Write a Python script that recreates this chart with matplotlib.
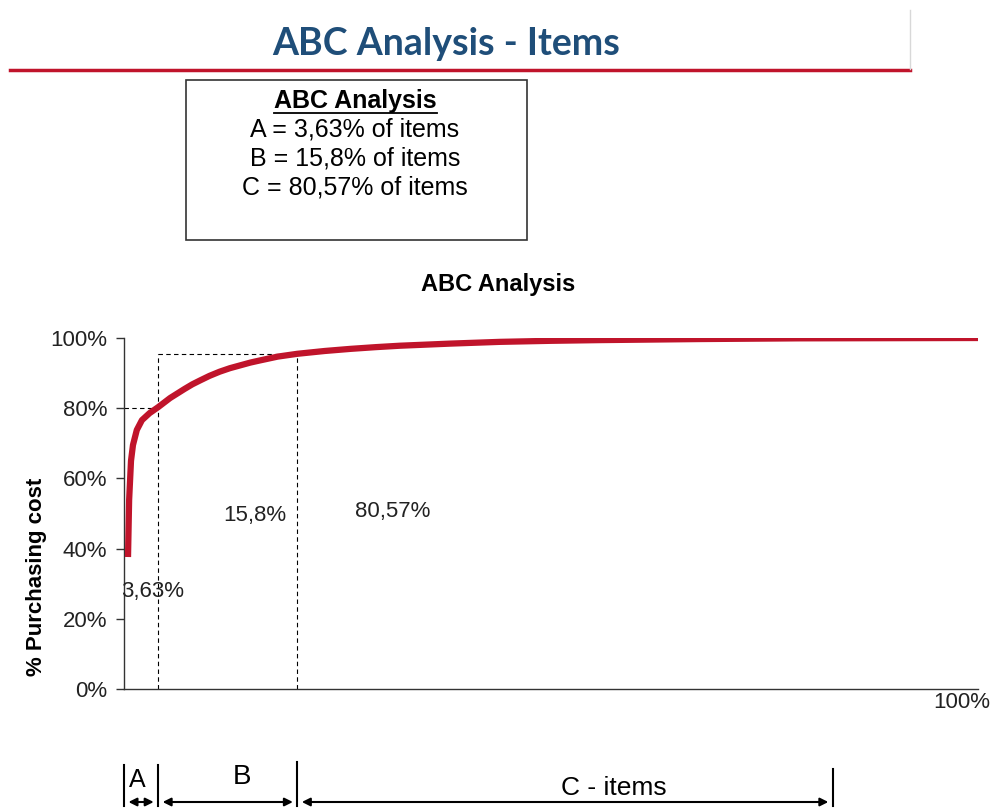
import matplotlib
matplotlib.use("Agg")
import matplotlib.pyplot as plt
from matplotlib.patches import Rectangle, FancyArrowPatch
from matplotlib.ticker import FuncFormatter
import matplotlib.transforms as mtransforms

# ---- data ----
cum_items = [0.0047, 0.006, 0.0082, 0.0105, 0.015, 0.021, 0.030, 0.040, 0.054,
             0.071, 0.080, 0.089, 0.100, 0.112, 0.124, 0.136, 0.148, 0.159,
             0.180, 0.203, 0.235, 0.265, 0.295, 0.323, 0.382, 0.44, 0.50,
             0.557, 0.674, 0.79, 1.0]
cum_cost = [0.376, 0.538, 0.65, 0.695, 0.738, 0.766, 0.786, 0.803, 0.829,
            0.855, 0.868, 0.879, 0.892, 0.904, 0.914, 0.922, 0.930, 0.936,
            0.947, 0.955, 0.963, 0.969, 0.974, 0.978, 0.984, 0.989, 0.992,
            0.994, 0.997, 0.999, 1.0]
boundary_a = 0.040      # end of class A (x)
boundary_b = 0.203      # end of class B (x)
level_a = 0.80          # cost share at A boundary
level_b = 0.953         # cost share at B boundary
c_end = 0.83            # end of C arrow (x)
yticks = [0, 0.2, 0.4, 0.6, 0.8, 1.0]
class_labels = ["3,63%", "15,8%", "80,57%"]
box_lines = ["A = 3,63% of items", "B = 15,8% of items", "C = 80,57% of items"]
bar_labels = ["A", "B", "C - items"]

RED = "#C0142B"
FONT = "Liberation Sans"
W, H = 992, 810
fig = plt.figure(figsize=(W / 100, H / 100), dpi=100)

def fx(px):
    return px / W

def fy(py):
    return 1 - py / H

# Title
fig.text(fx(446), fy(44), "ABC Analysis - Items", ha="center", va="center",
         fontsize=27, fontweight="bold", color="#1F4E79", family="Lato")
fig.add_artist(plt.Line2D([fx(10), fx(910)], [fy(70), fy(70)], color=RED, lw=2.5))
fig.add_artist(plt.Line2D([fx(910), fx(910)], [fy(10), fy(69)], color="#D8D8D8", lw=1))

# Summary box
fig.add_artist(Rectangle((fx(186), fy(240)), fx(527) - fx(186), fy(80) - fy(240),
                         transform=fig.transFigure, fill=False, ec="#333333", lw=1.2))
fig.text(fx(355), fy(101), "ABC Analysis", ha="center", va="center", fontsize=18,
         fontweight="bold", family=FONT)
fig.add_artist(plt.Line2D([fx(274), fx(437)], [fy(113), fy(113)], color="black", lw=1.3))
for i, t in enumerate(box_lines):
    fig.text(fx(355), fy(130 + 28.5 * i), t, ha="center", va="center", fontsize=18,
             family=FONT)

# Chart title
fig.text(fx(498), fy(284), "ABC Analysis", ha="center", va="center", fontsize=17,
         fontweight="bold", family=FONT)

ax = fig.add_axes([fx(124), fy(689), fx(978) - fx(124), fy(338) - fy(689)])
ax.plot(cum_items, cum_cost, color=RED, lw=4.5, solid_capstyle="butt", zorder=3)
ax.set_xlim(0, 1)
ax.set_ylim(0, 1)
ax.set_yticks(yticks)
ax.yaxis.set_major_formatter(FuncFormatter(lambda v, p: f"{v*100:.0f}%"))
ax.tick_params(axis="y", labelsize=16, length=6, width=1, color="#333333", pad=6)
for lab in ax.get_yticklabels():
    lab.set_family(FONT)
    lab.set_color("#222222")
ax.set_xticks([])
for s in ["top", "right"]:
    ax.spines[s].set_visible(False)
for s in ["left", "bottom"]:
    ax.spines[s].set_color("#333333")
    ax.spines[s].set_linewidth(1)

dash = dict(color="black", lw=0.8, ls=(0, (4, 3)))
ax.plot([boundary_a, boundary_a], [0, level_b], **dash)
ax.plot([boundary_b, boundary_b], [0, level_b], **dash)
ax.plot([boundary_a, boundary_b], [level_b, level_b], **dash)
ax.plot([0, boundary_a], [level_a, level_a], **dash)

ax.text(-0.003, 0.277, class_labels[0], ha="left", va="center", fontsize=16,
        family=FONT, color="#222222")
ax.text(0.153, 0.495, class_labels[1], ha="center", va="center", fontsize=16,
        family=FONT, color="#222222")
ax.text(0.315, 0.505, class_labels[2], ha="center", va="center", fontsize=16,
        family=FONT, color="#222222")
fig.text(fx(962), fy(703), "100%", ha="center", va="center", fontsize=16,
         family=FONT, color="#222222")

fig.text(fx(37), fy(577), "% Purchasing cost", rotation=90, ha="center", va="center",
         fontsize=16, fontweight="bold", family=FONT)

# Bottom class bars
tr = mtransforms.blended_transform_factory(ax.transData, fig.transFigure)
for xb, top in [(0, 765), (boundary_a, 765), (boundary_b, 762), (c_end, 769)]:
    fig.add_artist(plt.Line2D([xb, xb], [fy(top), fy(806)], transform=tr,
                              color="black", lw=1.5))
for x0, x1 in [(0, boundary_a), (boundary_a, boundary_b), (boundary_b, c_end)]:
    fig.add_artist(FancyArrowPatch((x0 + 0.002, fy(802)), (x1 - 0.002, fy(802)),
                                   transform=tr, arrowstyle="<|-|>", mutation_scale=12,
                                   color="black", lw=1.5))
fig.text(0.016, fy(780), bar_labels[0], transform=tr, ha="center", va="center",
         fontsize=18, family=FONT)
fig.text(0.138, fy(777), bar_labels[1], transform=tr, ha="center", va="center",
         fontsize=20, family=FONT)
fig.text(0.573, fy(788), bar_labels[2], transform=tr, ha="center", va="center",
         fontsize=19, family=FONT)

fig.savefig("out.png", dpi=100)
